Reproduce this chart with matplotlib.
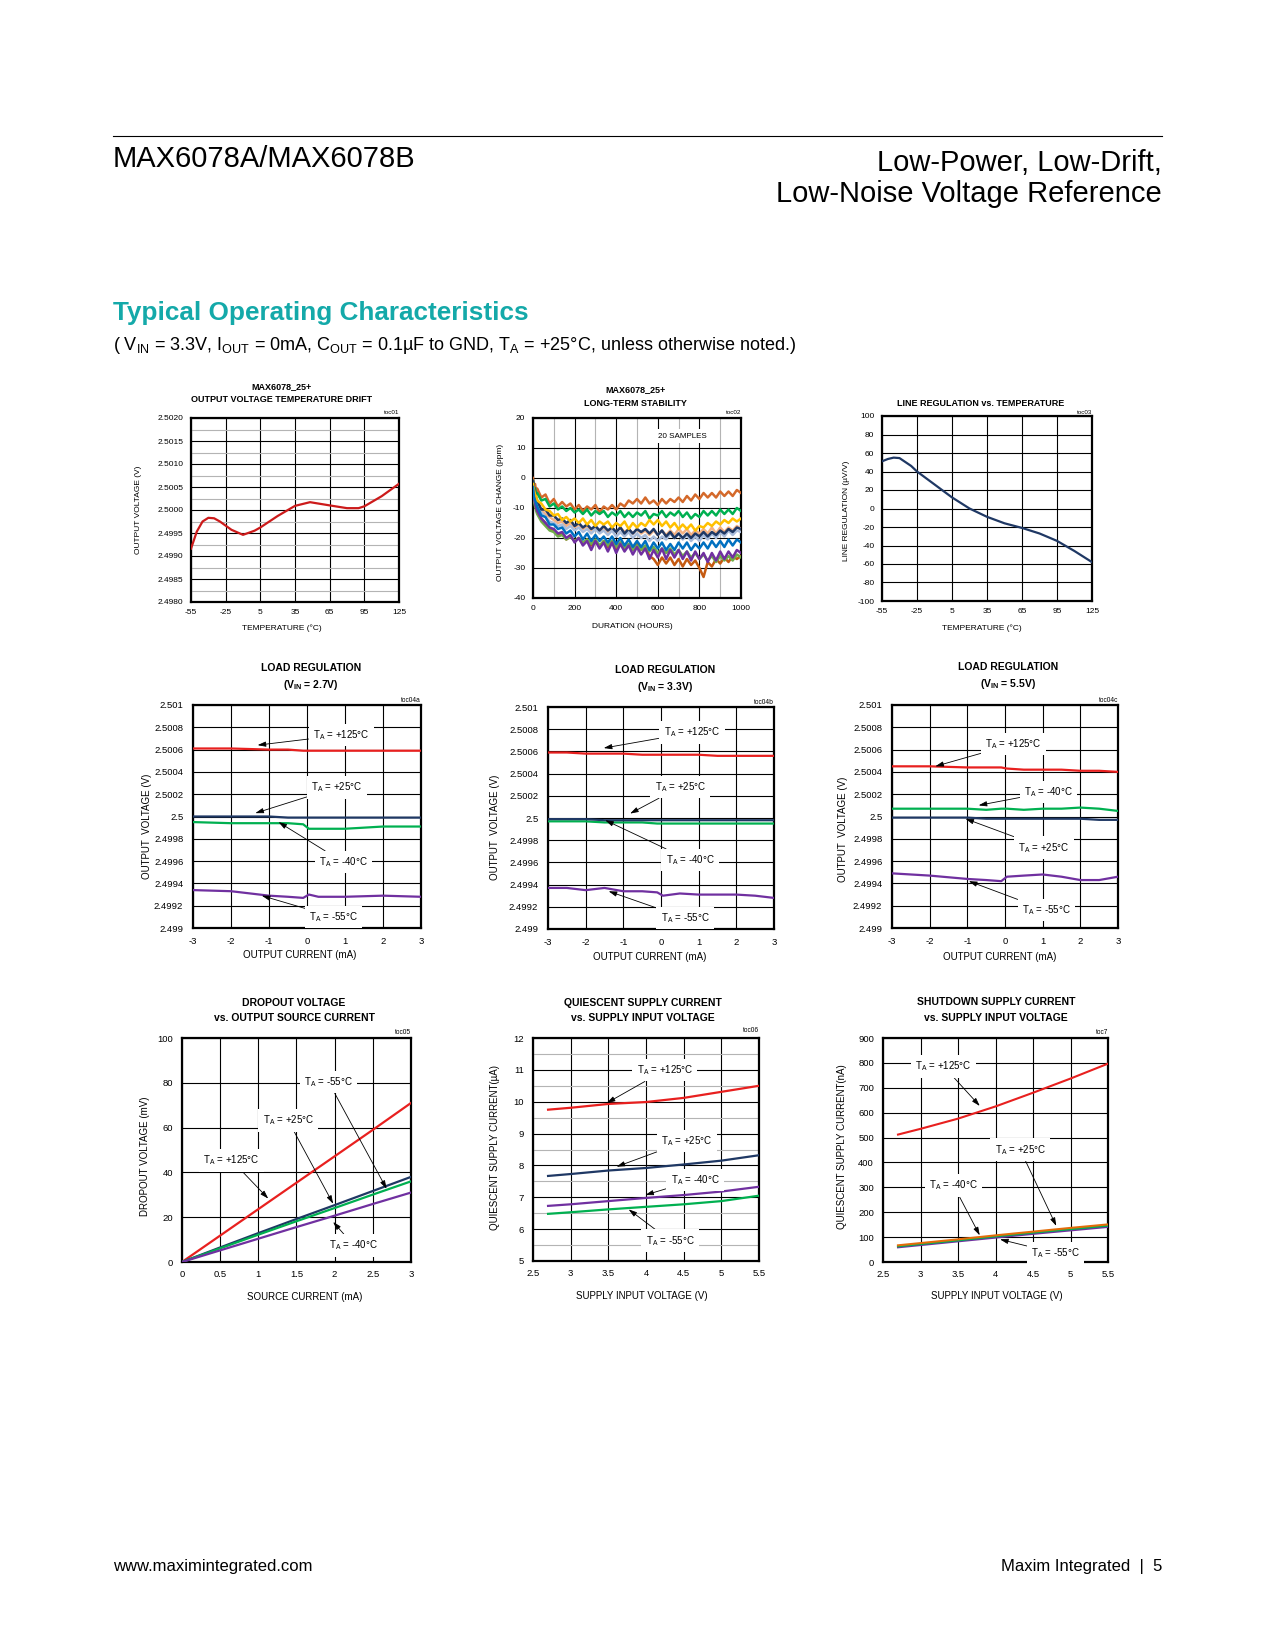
import numpy as np
import matplotlib
matplotlib.use("Agg")
import matplotlib.pyplot as plt
from matplotlib.lines import Line2D

FONT = "Liberation Sans"
plt.rcParams["font.family"] = FONT
plt.rcParams["mathtext.fontset"] = "custom"
plt.rcParams["mathtext.rm"] = FONT
plt.rcParams["mathtext.bf"] = FONT + ":bold"
plt.rcParams["mathtext.it"] = FONT + ":italic"

RED = "#e8201f"
DRED = "#cc1a1a"
NAVY = "#1f3864"
GREEN = "#00b050"
PURPLE = "#7030a0"
ORANGE = "#e36c09"

# ---- toc01: output voltage temperature drift
temp1 = [-55, -50, -45, -40, -35, -30, -20, -10, 0, 5, 20, 35, 48, 65, 80, 90, 95, 110, 125]
vout1 = [2.49916, 2.49953, 2.49975, 2.49983, 2.49982, 2.49975, 2.49957, 2.49946, 2.49955,
         2.49962, 2.49987, 2.50009, 2.50017, 2.50010, 2.50004, 2.50004, 2.50008, 2.50030, 2.50057]

# ---- toc02: long-term stability, 10 of the 20 traces
hours = [0, 5, 10, 15] + list(range(20, 1001, 20))
stab = {
    "#c55a11": [-4, -6.5, -8, -9.5, -11, -13.5, -15, -17, -17.5, -19,
                -18.5, -20.5, -19.5, -21, -20, -22, -20.5, -22.5, -21, -23,
                -21, -23, -21.5, -23.5, -21.5, -23.5, -22, -24, -22, -24,
                -23, -26, -27, -29, -26.5, -28.5, -26.5, -29, -27, -29.5,
                -27, -29, -27.5, -30, -33, -28, -29.5, -27, -28.5, -26.5,
                -28, -26, -27, -26],
    "#70ad47": [-6, -8, -9.5, -11, -12, -14.5, -16, -17.5, -18, -19.5,
                -19, -20.5, -19.5, -21, -20, -21.5, -20.5, -22, -20.5, -22.5,
                -21, -22.5, -21, -23, -21.5, -23.5, -22, -24, -22.5, -24,
                -22.5, -24.5, -23, -25, -23.5, -25, -23.5, -25.5, -24, -26,
                -24.5, -26.5, -25, -27, -25.5, -27.5, -26, -28, -26, -27.5,
                -26, -27.5, -25.5, -26.5],
    "#7030a0": [-5, -7, -8.5, -10, -11, -13.5, -15, -16.5, -17, -18.5,
                -18, -20, -19, -21.5, -20, -22.5, -21, -24, -21, -23.5,
                -21.5, -24.5, -21.5, -25, -22, -24.5, -22.5, -25.5, -23, -25.5,
                -23.5, -27, -24, -26.5, -23.5, -27, -24, -26.5, -24, -27,
                -24.5, -27.5, -24.5, -27, -25, -28, -25, -27.5, -24.5, -27,
                -24.5, -26.5, -24, -25],
    "#f4b183": [-2, -4.5, -6, -7, -8, -10.5, -12, -13, -14, -15,
                -14.5, -16, -15, -16.5, -15.5, -17, -16, -17.5, -16, -17.5,
                -16.5, -18, -16.5, -18, -16.5, -18, -17, -18.5, -17, -18.5,
                -17.5, -19, -17.5, -19, -17.5, -19, -17.5, -19, -17, -18.5,
                -17, -19, -17.5, -18.5, -17, -18.5, -16.5, -18.5, -16.5, -18,
                -16.5, -17.5, -16, -17],
    "#a9bcdb": [-3, -5.5, -7, -8, -9, -11.5, -13, -14.5, -15, -16,
                -15.5, -17, -16, -17.5, -16.5, -18, -17, -18.5, -17, -18.5,
                -17.5, -19, -17.5, -19.5, -18, -19.5, -18, -20, -18.5, -20,
                -19, -21, -19.5, -21, -19.5, -20.5, -18.5, -20, -18.5, -20.5,
                -19, -21, -19.5, -21, -19, -20.5, -18.5, -20, -18, -19.5,
                -17.5, -19, -17.5, -18],
    "#d4692a": [0, -2.5, -2, -4.5, -3.5, -6.5, -5.5, -8.5, -7, -9.5,
                -8, -9.5, -8.5, -10.5, -9, -11, -9.5, -10.5, -9, -11.5,
                -9.5, -10.5, -9, -10.5, -8.5, -9.5, -7.5, -8.5, -7, -8.5,
                -6.5, -8.5, -7.5, -9, -7, -8.5, -7, -8, -6.5, -8,
                -6, -7.5, -5.5, -7, -5, -6.5, -5, -6.5, -4.5, -6,
                -4.5, -6, -4, -5],
    "#00b050": [-1, -3.5, -3.5, -5.5, -5, -7.5, -7, -9.5, -8.5, -10.5,
                -9.5, -11, -10, -11.5, -10.5, -12, -10.5, -12.5, -11, -12,
                -11, -13, -11.5, -12.5, -11, -13, -11.5, -13, -11.5, -12.5,
                -11, -13.5, -12, -12.5, -11, -13, -11.5, -12.5, -11, -13,
                -11.5, -13.5, -12, -13, -11, -12.5, -11, -12.5, -10.5, -12,
                -10.5, -12, -10, -11],
    "#1f3864": [-1, -3.5, -5, -6.5, -7.5, -10.5, -10.5, -12.5, -12.5, -14,
                -13.5, -15, -14, -16, -15, -16.5, -15.5, -17, -16, -17.5,
                -16, -17.5, -16.5, -18, -16.5, -18.5, -17, -18.5, -17, -18,
                -17, -18.5, -17, -19, -17.5, -19.5, -18, -20, -18.5, -20,
                -18.5, -20, -18.5, -19.5, -18, -19.5, -18, -19, -17.5, -18.5,
                -17, -18, -16.5, -17],
    "#ffc000": [-2, -4, -5.5, -6, -7.5, -8.5, -10.5, -11, -12.5, -12,
                -14, -13, -14.5, -13.5, -15, -13.5, -15.5, -14, -16, -14.5,
                -15.5, -14.5, -16.5, -15, -16, -14.5, -17, -15, -16.5, -15,
                -16, -14, -15.5, -14, -16, -14.5, -16.5, -15, -17, -15.5,
                -17, -15.5, -17.5, -16, -16.5, -15, -16, -14.5, -15.5, -14,
                -15, -13.5, -14.5, -13.5],
    "#0070c0": [-3, -6.5, -7.5, -8.5, -9.5, -12.5, -13, -15.5, -15.5, -17,
                -16.5, -18.5, -17.5, -19.5, -18, -20.5, -18.5, -21, -19, -21,
                -19.5, -21.5, -19.5, -22, -20, -22.5, -20.5, -23, -21, -23,
                -21, -24, -21.5, -23.5, -21.5, -24, -22, -24, -21.5, -23.5,
                -21.5, -24, -22, -23.5, -21.5, -23.5, -21, -23, -21, -23,
                -20.5, -22.5, -20.5, -21.5],
}

# ---- toc03: line regulation vs temperature
temp3 = [-55, -50, -45, -40, -30, -25, -10, 5, 20, 35, 50, 65, 80, 95, 110, 125]
linereg = [51, 53.5, 55, 54.5, 46, 40, 26, 12, 0, -9, -16, -21, -27, -35, -46, -58]

# ---- toc04a/b/c: load regulation
lr27_x = [-3, -2, -1, -0.5, -0.1, 0.05, 0.3, 0.6, 1, 2, 3]
lr27 = {
    RED: [2.50061, 2.50061, 2.50060, 2.50060, 2.50059, 2.50059, 2.50059, 2.50059, 2.50059, 2.50059, 2.50059],
    GREEN: [2.49995, 2.49994, 2.49994, 2.49994, 2.49993, 2.49989, 2.49989, 2.49989, 2.49989, 2.49991, 2.49991],
    NAVY: [2.50000, 2.50000, 2.50000, 2.49999, 2.49999, 2.49999, 2.49999, 2.49999, 2.49999, 2.49999, 2.49999],
    PURPLE: [2.49934, 2.49933, 2.49929, 2.49928, 2.49927, 2.49930, 2.49928, 2.49928, 2.49928, 2.49929, 2.49928],
}
lr33_x = [-3, -2.5, -2, -1.5, -1, -0.5, -0.1, 0.05, 0.5, 1, 1.5, 2, 2.5, 3]
lr33 = {
    RED: [2.50059, 2.50059, 2.50058, 2.50058, 2.50058, 2.50057, 2.50057, 2.50057, 2.50057, 2.50057, 2.50056, 2.50056, 2.50056, 2.50056],
    GREEN: [2.49997, 2.49997, 2.49997, 2.49996, 2.49996, 2.49996, 2.49995, 2.49995, 2.49995, 2.49995, 2.49995, 2.49995, 2.49995, 2.49995],
    NAVY: [2.49999, 2.49999, 2.49999, 2.49998, 2.49998, 2.49998, 2.49998, 2.49998, 2.49998, 2.49998, 2.49998, 2.49998, 2.49998, 2.49998],
    PURPLE: [2.49937, 2.49937, 2.49935, 2.49937, 2.49934, 2.49934, 2.49933, 2.49930, 2.49932, 2.49931, 2.49931, 2.49931, 2.49930, 2.49928],
}
lr55_x = [-3, -2, -1, -0.5, -0.1, 0.05, 0.5, 1, 1.5, 2, 2.5, 3]
lr55 = {
    RED: [2.50045, 2.50045, 2.50044, 2.50044, 2.50044, 2.50043, 2.50042, 2.50042, 2.50042, 2.50041, 2.50041, 2.50040],
    GREEN: [2.50007, 2.50007, 2.50007, 2.50006, 2.50007, 2.50007, 2.50006, 2.50007, 2.50007, 2.50008, 2.50007, 2.50005],
    NAVY: [2.49999, 2.49999, 2.49999, 2.49998, 2.49998, 2.49998, 2.49998, 2.49998, 2.49998, 2.49998, 2.49997, 2.49997],
    PURPLE: [2.49949, 2.49947, 2.49944, 2.49943, 2.49942, 2.49946, 2.49947, 2.49948, 2.49946, 2.49943, 2.49943, 2.49946],
}

# ---- toc05: dropout voltage
isrc = [0, 0.5, 1, 1.5, 2, 2.5, 3]
dropout = {
    RED: [0, 11.8, 23.6, 35.4, 47.2, 59, 71],
    NAVY: [0, 6.5, 12.9, 19.2, 25.4, 31.7, 38],
    GREEN: [0, 6.1, 12.2, 18.2, 24.1, 30.1, 36],
    PURPLE: [0, 5.2, 10.4, 15.6, 20.7, 25.9, 31],
}

# ---- toc06: quiescent current
vin = [2.7, 3.0, 3.5, 4.0, 4.5, 5.0, 5.5]
iq = {
    RED: [9.75, 9.81, 9.93, 9.99, 10.12, 10.31, 10.50],
    NAVY: [7.67, 7.73, 7.84, 7.92, 8.03, 8.15, 8.32],
    PURPLE: [6.73, 6.78, 6.88, 6.98, 7.07, 7.18, 7.33],
    GREEN: [6.48, 6.53, 6.62, 6.70, 6.78, 6.88, 7.05],
}

# ---- toc7: shutdown current
ishdn = {
    RED: [512, 535, 576, 625, 680, 737, 797],
    PURPLE: [59, 68, 83, 98, 113, 127, 141],
    GREEN: [63, 72, 87, 103, 118, 132, 146],
    ORANGE: [67, 76, 91, 107, 122, 137, 151],
}

W, H = 1275, 1650
fig = plt.figure(figsize=(W / 100, H / 100), dpi=100)


def px_axes(l, t, r, b):
    return fig.add_axes([l / W, 1 - b / H, (r - l) / W, (b - t) / H])


def ftext(x, y, s, **kw):
    kw.setdefault("ha", "center")
    kw.setdefault("va", "center")
    fig.text(x / W, 1 - y / H, s, **kw)


def frame(ax, xlim, ylim, xt, yt, xtl, ytl, fs, xpad, ypad, yminor=None, xminor=None):
    ax.set_xlim(xlim)
    ax.set_ylim(ylim)
    ax.set_xticks(xt)
    ax.set_xticklabels(xtl)
    ax.set_yticks(yt)
    ax.set_yticklabels(ytl)
    if yminor is not None:
        ax.set_yticks(yminor, minor=True)
        ax.grid(True, which="minor", axis="y", color="#b4b4b4", lw=0.8)
    if xminor is not None:
        ax.set_xticks(xminor, minor=True)
        ax.grid(True, which="minor", axis="x", color="#b4b4b4", lw=0.8)
    ax.grid(True, which="major", color="black", lw=0.8)
    ax.set_axisbelow(True)
    ax.tick_params(which="both", length=0, labelsize=fs, colors="black")
    ax.tick_params(axis="x", pad=xpad)
    ax.tick_params(axis="y", pad=ypad)
    for sp in ax.spines.values():
        sp.set_linewidth(1.6)


def label(ax, s, xytext, xy, fs=7):
    ax.annotate(s, xy=xy, xytext=xytext, ha="center", va="center", fontsize=fs,
                bbox=dict(boxstyle="square,pad=0.45", fc="white", ec="none"),
                arrowprops=dict(arrowstyle="-|>,head_length=0.7,head_width=0.22",
                                color="black", lw=0.6, shrinkA=0, shrinkB=0),
                zorder=6, annotation_clip=False)


TA = r"T$_\mathregular{A}$ = "

# ---- page header / footer
fig.add_artist(Line2D([113 / W, 1162 / W], [1 - 136 / H, 1 - 136 / H], color="black", lw=0.8))
ftext(113, 159, "MAX6078A/MAX6078B", ha="left", fontsize=21)
ftext(1162, 163, "Low-Power, Low-Drift,", ha="right", fontsize=21)
ftext(1162, 194, "Low-Noise Voltage Reference", ha="right", fontsize=21)
ftext(113, 313, "Typical Operating Characteristics", ha="left", fontsize=18.8,
      fontweight="bold", color="#14a9a9")
ftext(113, 345, r"( V$_\mathregular{IN}$ = 3.3V, I$_\mathregular{OUT}$ = 0mA, C$_\mathregular{OUT}$ = 0.1µF to GND, "
      r"T$_\mathregular{A}$ = +25°C, unless otherwise noted.)", ha="left", fontsize=13)
ftext(113, 1566, "www.maximintegrated.com", ha="left", fontsize=12)
ftext(1162, 1566, "Maxim Integrated  |  5", ha="right", fontsize=12)

# ---- toc01
ax1 = px_axes(191, 418, 399, 602)
frame(ax1, (-55, 125), (2.498, 2.502), [-55, -25, 5, 35, 65, 95, 125],
      np.arange(2.498, 2.50201, 0.0005),
      ["-55", "-25", "5", "35", "65", "95", "125"],
      ["2.4980", "2.4985", "2.4990", "2.4995", "2.5000", "2.5005", "2.5010", "2.5015", "2.5020"],
      6, 5, 5.5, yminor=np.arange(2.49825, 2.502, 0.0005))
ax1.plot(temp1, vout1, color=DRED, lw=1.6, zorder=3)
ftext(282, 387, "MAX6078_25+", fontsize=6.5, fontweight="bold")
ftext(282, 399.5, "OUTPUT VOLTAGE TEMPERATURE DRIFT", fontsize=6.5, fontweight="bold")
ftext(399, 412, "toc01", ha="right", fontsize=4.5)
ftext(138, 510, "OUTPUT VOLTAGE (V)", rotation=90, fontsize=6)
ftext(282, 628, "TEMPERATURE (°C)", fontsize=6)

# ---- toc02
ax2 = px_axes(533, 418, 741, 598)
frame(ax2, (0, 1000), (-40, 20), range(0, 1001, 200), range(-40, 21, 10),
      ["0", "200", "400", "600", "800", "1000"],
      ["-40", "-30", "-20", "-10", "0", "10", "20"],
      6, 5, 5.5, xminor=range(100, 1000, 200))
for c, vals in stab.items():
    ax2.plot(hours, vals, color=c, lw=1.8, zorder=3)
ax2.text(717, 14, "20 SAMPLES", ha="center", va="center", fontsize=5.8,
         bbox=dict(boxstyle="square,pad=0.4", fc="white", ec="none"), zorder=5)
ftext(635, 390, "MAX6078_25+", fontsize=6.5, fontweight="bold")
ftext(635, 404, "LONG-TERM STABILITY", fontsize=6.5, fontweight="bold")
ftext(741, 413, "toc02", ha="right", fontsize=4.5)
ftext(500, 512, "OUTPUT VOLTAGE CHANGE (ppm)", rotation=90, fontsize=6)
ftext(632, 627, "DURATION (HOURS)", fontsize=6)

# ---- toc03
ax3 = px_axes(882, 416, 1092, 601)
frame(ax3, (-55, 125), (-100, 100), [-55, -25, 5, 35, 65, 95, 125], range(-100, 101, 20),
      ["-55", "-25", "5", "35", "65", "95", "125"],
      [str(v) for v in range(-100, 101, 20)], 6, 5, 5.5)
ax3.plot(temp3, linereg, color=NAVY, lw=1.6, zorder=3)
ftext(981, 403, "LINE REGULATION vs. TEMPERATURE", fontsize=6.5, fontweight="bold")
ftext(1092, 412, "toc03", ha="right", fontsize=4.5)
ftext(846, 511, "LINE REGULATION (µV/V)", rotation=90, fontsize=6)
ftext(982, 628, "TEMPERATURE (°C)", fontsize=6)

# ---- toc04a/b/c
lr_yt = np.arange(2.499, 2.50101, 0.0002)
lr_yl = ["2.499", "2.4992", "2.4994", "2.4996", "2.4998", "2.5", "2.5002", "2.5004",
         "2.5006", "2.5008", "2.501"]
lr_xl = ["-3", "-2", "-1", "0", "1", "2", "3"]
load_sets = [
    ((193, 705, 421, 928), lr27_x, lr27, "2.7V", "toc04a", 311, 668, 147, 826, 300, 955,
     [((0.9, 2.50073), (-1.3, 2.50064), "+125°C"),
      ((0.78, 2.50026), (-1.36, 2.50003), "+25°C"),
      ((0.96, 2.49959), (-0.75, 2.49995), "-40°C"),
      ((0.70, 2.49910), (-1.19, 2.49929), "-55°C")]),
    ((548, 707, 774, 929), lr33_x, lr33, "3.3V", "toc04b", 665, 670, 495, 827, 650, 957,
     [((0.82, 2.50077), (-1.52, 2.50063), "+125°C"),
      ((0.51, 2.50028), (-0.82, 2.50004), "+25°C"),
      ((0.77, 2.49962), (-1.48, 2.49998), "-40°C"),
      ((0.64, 2.49910), (-1.39, 2.49934), "-55°C")]),
    ((892, 705, 1118, 928), lr55_x, lr55, "5.5V", "toc04c", 1008, 667, 843, 829, 1000, 957,
     [((0.23, 2.50065), (-1.85, 2.50045), "+125°C"),
      ((1.16, 2.50022), (-0.70, 2.50010), "-40°C"),
      ((1.03, 2.49972), (-1.05, 2.49998), "+25°C"),
      ((1.10, 2.49916), (-0.96, 2.49942), "-55°C")]),
]
for box, xs, curves, vtxt, toc, tx, ty, yx, yy, xx, xy, notes in load_sets:
    ax = px_axes(*box)
    frame(ax, (-3, 3), (2.499, 2.501), range(-3, 4), lr_yt, lr_xl, lr_yl, 6.8, 6.5, 7)
    for c, vals in curves.items():
        ax.plot(xs, vals, color=c, lw=1.6, zorder=3)
    for txy, axy, t in notes:
        label(ax, TA + t, txy, axy)
    ftext(tx, ty, "LOAD REGULATION", fontsize=7.5, fontweight="bold")
    ftext(tx, ty + 17, r"(V$_\mathbf{IN}$ = " + vtxt + ")", fontsize=7.5, fontweight="bold")
    ftext(box[2], box[1] - 4, toc, ha="right", fontsize=4.8)
    ftext(yx, yy, "OUTPUT  VOLTAGE (V)", rotation=90, fontsize=7)
    ftext(xx, xy, "OUTPUT CURRENT (mA)", fontsize=7)

# ---- toc05
ax7 = px_axes(182, 1038, 411, 1262)
frame(ax7, (0, 3), (0, 100), isrc, range(0, 101, 20),
      ["0", "0.5", "1", "1.5", "2", "2.5", "3"], [str(v) for v in range(0, 101, 20)],
      6.8, 6, 6.5)
for c, vals in dropout.items():
    ax7.plot(isrc, vals, color=c, lw=1.6, zorder=3)
label(ax7, TA + "-55°C", (1.92, 80.4), (2.68, 32.7))
label(ax7, TA + "+25°C", (1.39, 63.2), (1.98, 26))
label(ax7, TA + "+125°C", (0.65, 45.4), (1.13, 28.3))
label(ax7, TA + "-40°C", (2.25, 7.4), (1.98, 17.9))
ftext(294, 1003, "DROPOUT VOLTAGE", fontsize=7.5, fontweight="bold")
ftext(294, 1018, "vs. OUTPUT SOURCE CURRENT", fontsize=7.5, fontweight="bold")
ftext(411, 1033, "toc05", ha="right", fontsize=4.8)
ftext(145, 1156, "DROPOUT VOLTAGE (mV)", rotation=90, fontsize=7)
ftext(305, 1297, "SOURCE CURRENT (mA)", fontsize=7)

# ---- toc06
vin_t = [2.5, 3, 3.5, 4, 4.5, 5, 5.5]
vin_l = ["2.5", "3", "3.5", "4", "4.5", "5", "5.5"]
ax8 = px_axes(533, 1038, 759, 1261)
frame(ax8, (2.5, 5.5), (5, 12), vin_t, range(5, 13), vin_l, [str(v) for v in range(5, 13)],
      6.8, 6, 6.5, yminor=np.arange(5.5, 12, 1.0))
for c, vals in iq.items():
    ax8.plot(vin, vals, color=c, lw=1.6, zorder=3)
label(ax8, TA + "+125°C", (4.25, 10.99), (3.48, 9.96))
label(ax8, TA + "+25°C", (4.54, 8.77), (3.61, 7.96))
label(ax8, TA + "-40°C", (4.65, 7.54), (3.99, 7.07))
label(ax8, TA + "-55°C", (4.32, 5.64), (3.77, 6.62))
ftext(643, 1003, "QUIESCENT SUPPLY CURRENT", fontsize=7.5, fontweight="bold")
ftext(643, 1018, "vs. SUPPLY INPUT VOLTAGE", fontsize=7.5, fontweight="bold")
ftext(759, 1031, "toc06", ha="right", fontsize=4.8)
ftext(495, 1147, "QUIESCENT SUPPLY CURRENT(µA)", rotation=90, fontsize=7)
ftext(642, 1296, "SUPPLY INPUT VOLTAGE (V)", fontsize=7)

# ---- toc7
ax9 = px_axes(883, 1038, 1108, 1262)
frame(ax9, (2.5, 5.5), (0, 900), vin_t, range(0, 901, 100), vin_l,
      [str(v) for v in range(0, 901, 100)], 6.8, 6, 6.5)
for c, vals in ishdn.items():
    ax9.plot(vin, vals, color=c, lw=1.5, zorder=3)
label(ax9, TA + "+125°C", (3.31, 786), (3.79, 627))
label(ax9, TA + "+25°C", (4.33, 451), (4.81, 145))
label(ax9, TA + "-40°C", (3.44, 308), (3.79, 107))
label(ax9, TA + "-55°C", (4.80, 36), (4.06, 91))
ftext(996, 1002, "SHUTDOWN SUPPLY CURRENT", fontsize=7.5, fontweight="bold")
ftext(996, 1018, "vs. SUPPLY INPUT VOLTAGE", fontsize=7.5, fontweight="bold")
ftext(1108, 1033, "toc7", ha="right", fontsize=4.8)
ftext(842, 1147, "QUIESCENT SUPPLY CURRENT(nA)", rotation=90, fontsize=7)
ftext(997, 1296, "SUPPLY INPUT VOLTAGE (V)", fontsize=7)

fig.savefig("out.png", dpi=100)
